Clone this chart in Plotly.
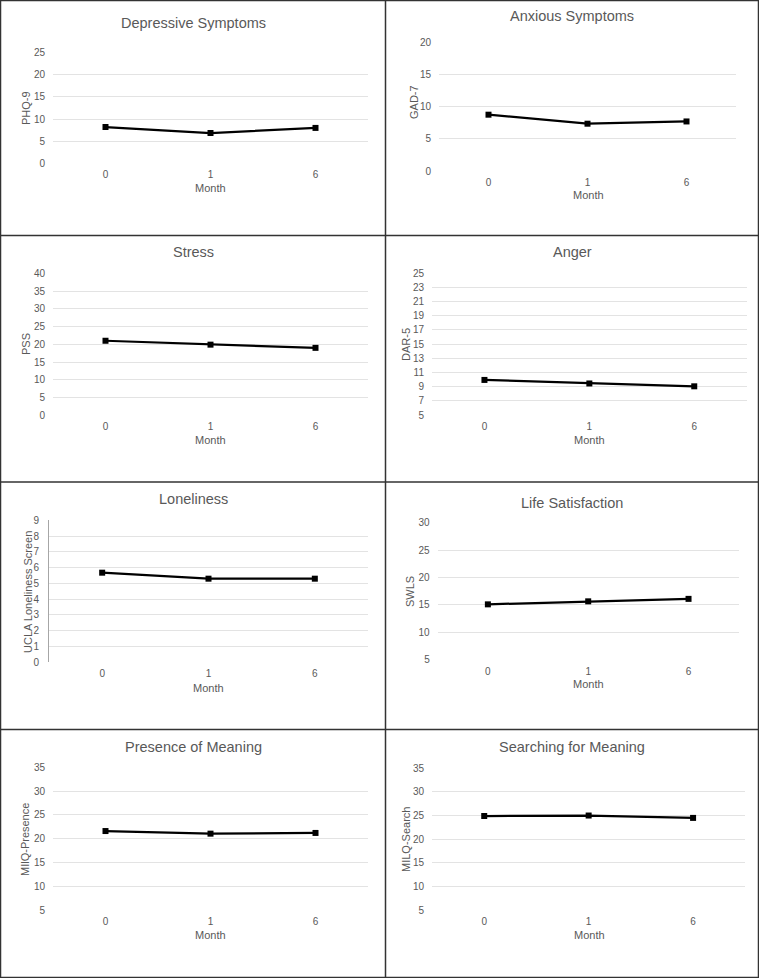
import plotly.graph_objects as go

W, H = 759, 978

months = ["0", "1", "6"]

titles = ["Depressive Symptoms", "Anxious Symptoms", "Stress", "Anger",
          "Loneliness", "Life Satisfaction", "Presence of Meaning", "Searching for Meaning"]
ylabels = ["PHQ-9", "GAD-7", "PSS", "DAR-5", "UCLA Loneliness Screen", "SWLS",
           "MIlQ-Presence", "MILQ-Search"]

phq9 = [8.2, 6.85, 8.0]
gad7 = [8.75, 7.35, 7.7]
pss = [21.0, 19.9, 19.0]
dar5 = [9.95, 9.45, 9.05]
ucla = [5.68, 5.3, 5.3]
swls = [15.1, 15.65, 16.1]
mlq_presence = [21.6, 21.05, 21.2]
mlq_search = [24.9, 25.0, 24.5]

series = [phq9, gad7, pss, dar5, ucla, swls, mlq_presence, mlq_search]
yranges = [(0, 25, 5), (0, 20, 5), (0, 40, 5), (5, 25, 2),
           (0, 9, 1), (5, 30, 5), (5, 35, 5), (5, 35, 5)]

# layout geometry (pixels)
plot_boxes = [  # x0, x1, ytop, ybot
    (53, 368, 52.7, 163.3),
    (439, 736, 42.3, 171),
    (53, 368, 273.3, 415.3),
    (432, 746.7, 273.3, 415),
    (49, 368, 520.3, 662.3),
    (437.7, 738.7, 522.7, 659.7),
    (53, 368, 767.3, 910),
    (432, 745.3, 768.3, 910),
]
title_pos = [(193, 23), (572, 16), (193, 252), (572, 252),
             (193, 499), (572, 503), (193, 747), (572, 747)]
ytitle_pos = [(26, 108), (414, 102), (26, 344), (406, 345),
              (28, 592), (410, 592), (25, 840), (406, 840)]
month_pos = [(210.5, 188), (588, 195), (210.5, 440), (589, 440),
             (208.5, 688), (588, 684), (210.5, 935), (589, 935)]

FONT = "Liberation Sans, Arial, sans-serif"
GREY = "#595959"

fig = go.Figure()
layout = dict(
    template="none",
    width=W, height=H, margin=dict(l=0, r=0, t=0, b=0, pad=0, autoexpand=False),
    paper_bgcolor="white", plot_bgcolor="white", showlegend=False,
    font=dict(family=FONT, color=GREY),
)
annotations = []
shapes = []

def px(x):
    return x / W

def py(y):
    return 1 - y / H

for i in range(8):
    k = "" if i == 0 else str(i + 1)
    x0, x1, yt, yb = plot_boxes[i]
    lo, hi, dt = yranges[i]
    fig.add_trace(go.Scatter(
        x=[0, 1, 2], y=series[i], mode="lines+markers",
        line=dict(color="black", width=2.25),
        marker=dict(symbol="square", size=6, color="black"),
        xaxis="x" + k, yaxis="y" + k, cliponaxis=False,
    ))
    layout["xaxis" + k] = dict(
        domain=[px(x0), px(x1)], anchor="y" + k, range=[-0.5, 2.5],
        tickvals=[0, 1, 2], ticktext=months, showgrid=False, zeroline=False,
        showline=False, ticks="", automargin=False,
        tickfont=dict(size=10, color=GREY, family=FONT),
        ticklabelstandoff=4, fixedrange=True,
    )
    layout["yaxis" + k] = dict(
        domain=[py(yb), py(yt)], anchor="x" + k, range=[lo, hi], dtick=dt,
        tick0=lo, showgrid=True, gridcolor="#e3e3e3", gridwidth=1,
        zeroline=False, ticks="", automargin=False,
        tickfont=dict(size=10, color=GREY, family=FONT),
        ticklabelstandoff=7, fixedrange=True,
        showline=(i == 4), linecolor="#a6a6a6", linewidth=1,
    )
    annotations.append(dict(
        text=titles[i], x=px(title_pos[i][0]), y=py(title_pos[i][1]),
        xref="paper", yref="paper", showarrow=False, xanchor="center",
        yanchor="middle", font=dict(size=14.5, color=GREY, family=FONT)))
    annotations.append(dict(
        text=ylabels[i], x=px(ytitle_pos[i][0]), y=py(ytitle_pos[i][1]),
        xref="paper", yref="paper", showarrow=False, textangle=-90,
        xanchor="center", yanchor="middle",
        font=dict(size=11, color=GREY, family=FONT)))
    annotations.append(dict(
        text="Month", x=px(month_pos[i][0]), y=py(month_pos[i][1]),
        xref="paper", yref="paper", showarrow=False, xanchor="center",
        yanchor="middle", font=dict(size=11, color=GREY, family=FONT)))

BORDER = "#333333"
# outer frame and cell dividers
shapes.append(dict(type="rect", xref="paper", yref="paper", x0=px(0.5), x1=px(758.5),
                   y0=py(977.5), y1=py(0.5), line=dict(color=BORDER, width=1.5)))
shapes.append(dict(type="line", xref="paper", yref="paper", x0=px(385.5), x1=px(385.5),
                   y0=0, y1=1, line=dict(color=BORDER, width=1.5)))
for yy in (235.5, 482, 729.5):
    shapes.append(dict(type="line", xref="paper", yref="paper", x0=0, x1=1,
                       y0=py(yy), y1=py(yy), line=dict(color=BORDER, width=1.5)))

layout["annotations"] = annotations
layout["shapes"] = shapes
fig.update_layout(**layout)
fig.write_html(
    "out.html",
    config={"displayModeBar": False},
    post_script=(
        "document.documentElement.style.margin='0';"
        "document.documentElement.style.overflow='hidden';"
        "document.body.style.margin='0';document.body.style.overflow='hidden';"
        "var d=document.getElementById('{plot_id}');"
        "d.style.position='fixed';d.style.top='0px';d.style.left='0px';"
    ),
)
